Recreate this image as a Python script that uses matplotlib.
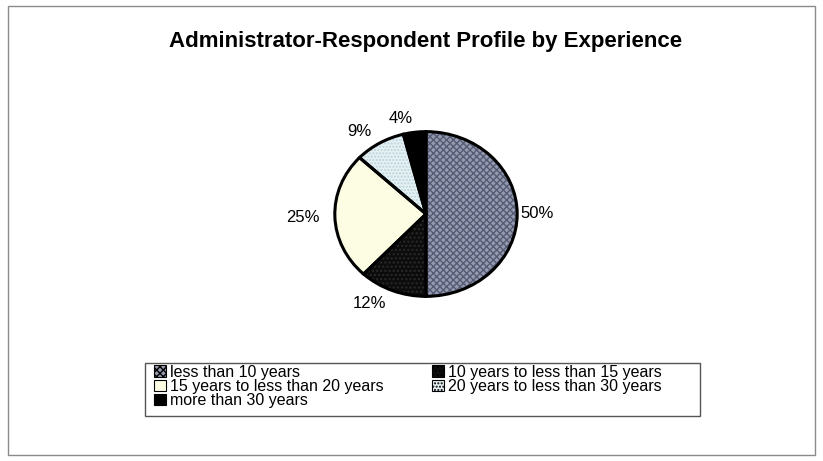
import numpy as np
import matplotlib.pyplot as plt
from matplotlib.patches import Rectangle, Patch

plt.rcParams['font.family'] = ['Liberation Sans', 'DejaVu Sans']
plt.rcParams['hatch.linewidth'] = 1.0

# experience groups and their shares (%)
categories = ['less than 10 years',
              '10 years to less than 15 years',
              '15 years to less than 20 years',
              '20 years to less than 30 years',
              'more than 30 years']
shares = [50, 12, 25, 9, 4]

face_colors = ['#959ab0', '#0c0c0c', '#fdfde4', '#e6f1f3', '#000000']
hatch_colors = ['#555b72', '#2a2a2a', '#fdfde4', '#b9d3dc', '#000000']
hatches = ['xxxxx', '....', None, '.....', None]

fig = plt.figure(figsize=(8.23, 4.61), dpi=100)
fig.patch.set_facecolor('white')

# outer chart frame
fig.add_artist(Rectangle((8 / 823, 1 - 455 / 461), 807 / 823, 449 / 461,
                         transform=fig.transFigure, fill=False,
                         edgecolor='#8a8a8a', linewidth=1.0))

fig.text(426 / 823, 1 - 42 / 461, 'Administrator-Respondent Profile by Experience',
         ha='center', va='center', fontsize=16, fontweight='bold')

# pie area, squashed a bit so the pie comes out slightly oval
ax = fig.add_axes([333 / 823, 163 / 461, 186 / 823, 168 / 461])

wedges, _ = ax.pie(shares, startangle=90, counterclock=False, radius=1,
                   colors=face_colors, wedgeprops=dict(linewidth=0))
for w, hc, h in zip(wedges, hatch_colors, hatches):
    w.set_edgecolor(hc)
    w.set_hatch(h)
    w.set_linewidth(0)

# black outlines on top
_, texts = ax.pie(shares, startangle=90, counterclock=False, radius=1,
                  colors=['none'] * len(shares),
                  labels=[f'{v}%' for v in shares], labeldistance=1.17,
                  textprops=dict(fontsize=12),
                  wedgeprops=dict(linewidth=2.2, edgecolor='black', fill=False))
# 50% label sits closer to the rim
x, y = texts[0].get_position()
texts[0].set_position((1.04, y))
ax.set_aspect('auto')
ax.set_xlim(-1.02, 1.02)
ax.set_ylim(-1.02, 1.02)

# legend box drawn separately so it keeps its own width
fig.add_artist(Rectangle((145 / 823, 1 - 416 / 461), 555 / 823, 53 / 461,
                         transform=fig.transFigure, fill=False,
                         edgecolor='#555555', linewidth=1.0))

# legend handles, filled row-wise in two columns
handles = [Patch(facecolor=fc, edgecolor='black', hatch=h, linewidth=0.8)
           for fc, h in zip(face_colors, hatches)]
order = [0, 2, 4, 1, 3]
leg = fig.legend([handles[i] for i in order], [categories[i] for i in order],
                 ncol=2, loc='upper left',
                 bbox_to_anchor=(153 / 823, 1 - 364 / 461),
                 fontsize=11.5, frameon=False, labelspacing=-0.05,
                 handlelength=0.75, handleheight=0.75, handletextpad=0.25,
                 borderpad=0.05, columnspacing=3.05, borderaxespad=0)

fig.savefig('out.png', dpi=100)
